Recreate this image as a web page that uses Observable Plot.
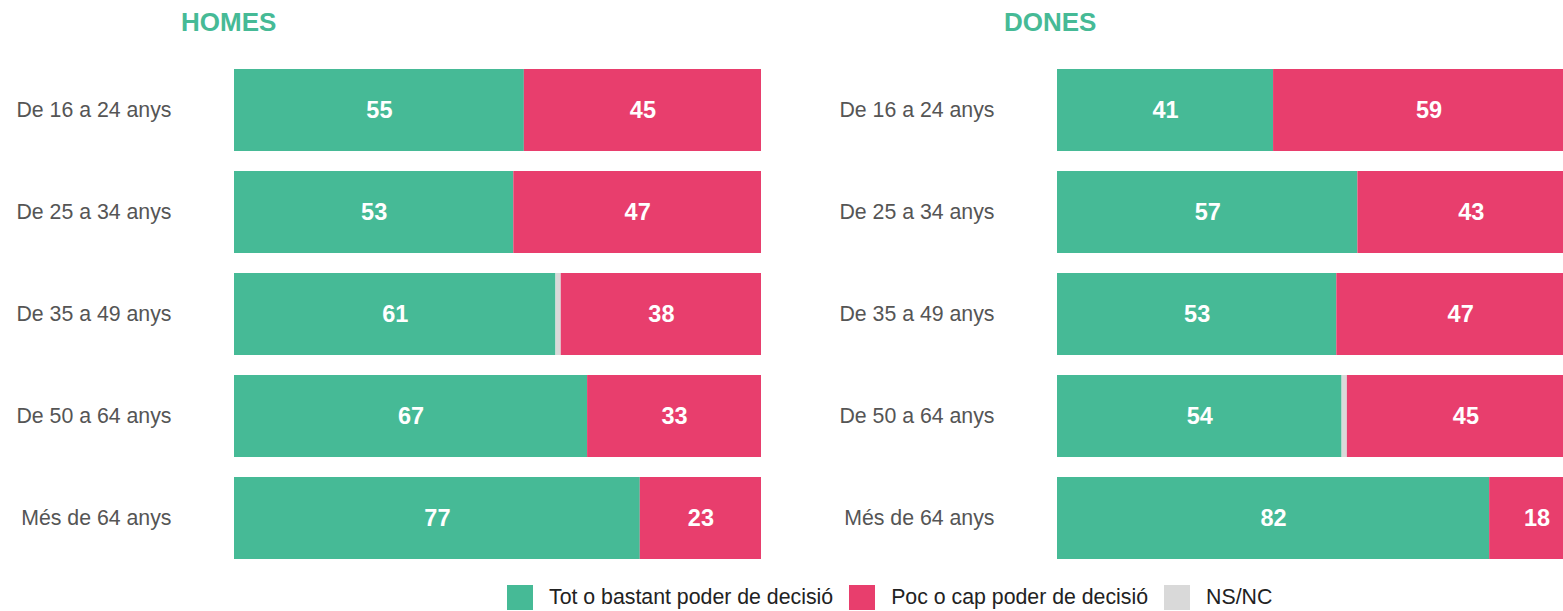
<!DOCTYPE html>
<html>
<head>
<meta charset="utf-8">
<script src="https://cdn.jsdelivr.net/npm/d3@7"></script>
<script src="https://cdn.jsdelivr.net/npm/@observablehq/plot@0.6"></script>
<style>
  html, body { margin: 0; padding: 0; background: #fff; }
  body { width: 1563px; height: 611px; overflow: hidden; position: relative; font-family: "Liberation Sans", Arial, sans-serif; }
  .panel { position: absolute; top: 0; }
  .title { position: absolute; top: 9px; font-weight: bold; font-size: 26px; line-height: 26px; color: #46BA96; }
  .chart { position: absolute; top: 44px; left: 0; }
  .legend { position: absolute; top: 585px; left: 507px; display: flex; align-items: center; font-size: 21.3px; color: #222; white-space: nowrap; }
  .legend .item { display: flex; align-items: center; margin-right: 16px; }
  .legend .sw { width: 26px; height: 25px; margin-right: 16px; }
  .legend span { line-height: 25px; }
</style>
</head>
<body>
<div id="root"></div>
<script>
const ages = ["De 16 a 24 anys", "De 25 a 34 anys", "De 35 a 49 anys", "De 50 a 64 anys", "Més de 64 anys"];
const cats = ["Tot o bastant poder de decisió", "NS/NC", "Poc o cap poder de decisió"];
const legendOrder = ["Tot o bastant poder de decisió", "Poc o cap poder de decisió", "NS/NC"];
const colors = ["#46BA96", "#D9D9D9", "#E83E6D"];
const homesTot = [55, 53, 61, 67, 77];
const homesNs  = [0, 0, 1, 0, 0];
const homesPoc = [45, 47, 38, 33, 23];
const donesTot = [41, 57, 53, 54, 82];
const donesNs  = [0, 0, 0, 1, 0];
const donesPoc = [59, 43, 47, 45, 18];

function rows(tot, ns, poc) {
  const out = [];
  ages.forEach((a, i) => {
    out.push({age: a, cat: cats[0], value: tot[i]});
    out.push({age: a, cat: cats[1], value: ns[i]});
    out.push({age: a, cat: cats[2], value: poc[i]});
  });
  return out;
}

function panel(title, data, left, width, marginLeft, titleLeft) {
  const div = document.createElement("div");
  div.className = "panel";
  div.style.left = left + "px";
  div.style.width = width + "px";
  div.style.height = "611px";
  const t = document.createElement("div");
  t.className = "title";
  t.style.left = titleLeft + "px";
  t.textContent = title;
  div.appendChild(t);
  const chart = Plot.plot({
    width: width,
    height: 530,
    marginTop: 15,
    marginBottom: 5,
    marginLeft: marginLeft,
    marginRight: 0,
    style: {fontFamily: "Liberation Sans, Arial, sans-serif", overflow: "hidden"},
    x: {domain: [0, 100], axis: null},
    y: {domain: ages, paddingInner: 0.2, paddingOuter: 0.1, label: null},
    color: {domain: cats, range: colors},
    marks: [
      Plot.barX(data, Plot.stackX({x: "value", y: "age", fill: "cat", order: cats, inset: 0})),
      Plot.text(data, Plot.stackX({x: "value", y: "age", z: "cat", order: cats, text: d => d.value > 1 ? String(d.value) : "", fill: "white", fontWeight: "bold", fontSize: 23.5})),
      Plot.axisY({tickSize: 0, tickPadding: 63, fontSize: 21.3, color: "#555", label: null})
    ]
  });
  chart.classList.add("chart");
  div.appendChild(chart);
  document.getElementById("root").appendChild(div);
}

panel("HOMES", rows(homesTot, homesNs, homesPoc), 0, 761, 234, 181);
panel("DONES", rows(donesTot, donesNs, donesPoc), 781, 803, 276, 223);

const legend = document.createElement("div");
legend.className = "legend";
legendOrder.forEach(c => {
  const item = document.createElement("div");
  item.className = "item";
  const sw = document.createElement("div");
  sw.className = "sw";
  sw.style.background = colors[cats.indexOf(c)];
  const sp = document.createElement("span");
  sp.textContent = c;
  item.appendChild(sw); item.appendChild(sp);
  legend.appendChild(item);
});
document.body.appendChild(legend);
</script>
</body>
</html>
